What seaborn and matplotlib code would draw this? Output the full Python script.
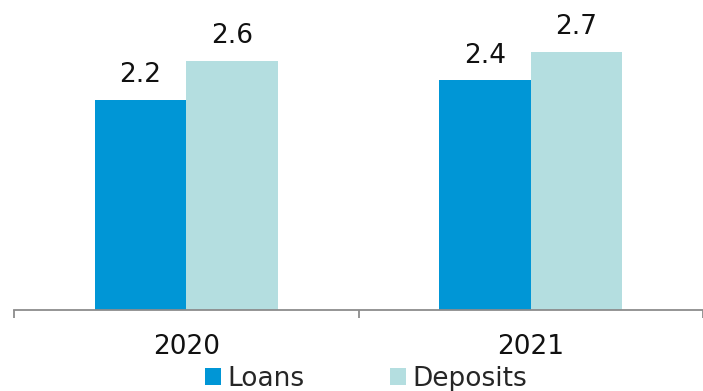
import matplotlib
matplotlib.use("Agg")
import matplotlib.pyplot as plt
import seaborn as sns
import pandas as pd
from matplotlib.patches import Patch

years = ["2020", "2021"]
series = ["Loans", "Deposits"]
loans = [2.2, 2.4]
deposits = [2.6, 2.7]
colors = {"Loans": "#0096D6", "Deposits": "#B4DEE0"}

df = pd.DataFrame({
    "year": years * 2,
    "series": ["Loans"] * len(years) + ["Deposits"] * len(years),
    "value": loans + deposits,
})

sns.set_theme(style="white")
plt.rcParams["font.family"] = ["DejaVu Sans"]

fig = plt.figure(figsize=(7.03, 3.91), dpi=100)
ax = fig.add_axes([14 / 703, 81 / 391, 1 - 14 / 703, 310 / 391])

sns.barplot(data=df, x="year", y="value", hue="series", hue_order=series,
            palette=colors, width=0.53, gap=0, saturation=1, ax=ax,
            legend=False, edgecolor="none", linewidth=0)

for c in ax.containers:
    ax.bar_label(c, fmt="%.1f", padding=8.5, fontsize=19, color="#111111")

ax.set_xlim(-0.5, 1.5)
ax.set_ylim(0, 3.24)
ax.set_xlabel("")
ax.set_ylabel("")
ax.set_yticks([])

for s in ["left", "top", "right"]:
    ax.spines[s].set_visible(False)
ax.spines["bottom"].set_color("#8C8C8C")
ax.spines["bottom"].set_linewidth(1.3)

ax.set_xticks([0, 1])
ax.set_xticklabels(years, fontsize=19, color="#111111")
ax.tick_params(axis="x", which="major", length=0, pad=17)
ax.set_xticks([-0.5, 0.5, 1.5], minor=True)
ax.tick_params(axis="x", which="minor", length=6, width=1.3, color="#8C8C8C",
               direction="out", bottom=True)

handles = [Patch(facecolor=colors[s], edgecolor="none", label=s) for s in series]
fig.legend(handles=handles, loc="center", bbox_to_anchor=(366 / 703, 1 - 379 / 391),
           ncol=2, frameon=False, fontsize=19, handlelength=0.6, handleheight=0.6,
           handletextpad=0.25, columnspacing=3.25, borderpad=0, borderaxespad=0)

fig.savefig("out.png", dpi=100)
